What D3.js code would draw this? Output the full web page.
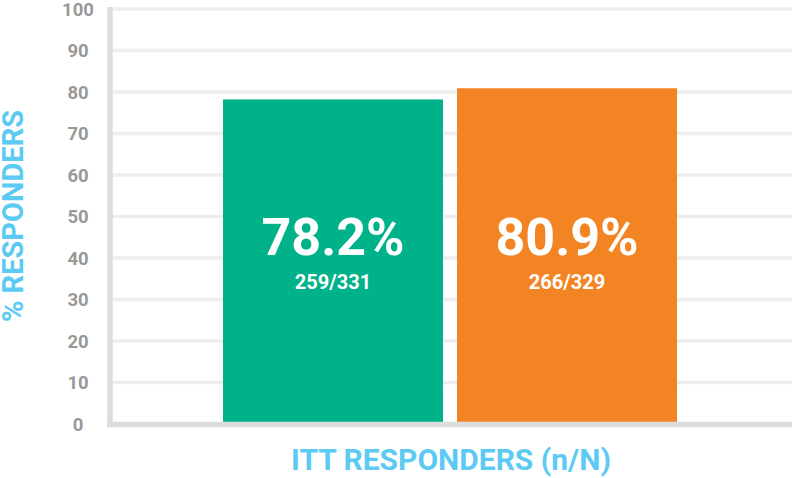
<!DOCTYPE html>
<html>
<head>
<meta charset="utf-8">
<script src="https://cdn.jsdelivr.net/npm/d3@7"></script>
<style>
  html, body { margin: 0; padding: 0; background: #fff; }
  svg { display: block; font-family: Roboto, "Open Sans", sans-serif; }
</style>
</head>
<body>
<div id="chart"></div>
<script>
const groups = ["A", "B"];
const percents = [78.2, 80.9];
const counts = ["259/331", "266/329"];
const colors = ["#00b289", "#f38424"];
const yTicks = [0, 10, 20, 30, 40, 50, 60, 70, 80, 90, 100];

const width = 792, height = 478;

const svg = d3.select("#chart").append("svg")
    .attr("width", width)
    .attr("height", height);

const xScale = d3.scaleBand()
    .domain(groups)
    .range([110, 790])
    .paddingInner(0.06)
    .paddingOuter(0.483);

const yScale = d3.scaleLinear()
    .domain([0, 100])
    .range([424, 9]);

// gridlines
svg.append("g")
    .selectAll("line")
    .data(yTicks.filter(d => d > 0))
    .join("line")
    .attr("x1", 112)
    .attr("x2", width)
    .attr("y1", d => yScale(d))
    .attr("y2", d => yScale(d))
    .attr("stroke", "#eeeeee")
    .attr("stroke-width", 3.5);

// tick labels
svg.append("g")
    .selectAll("text")
    .data(yTicks)
    .join("text")
    .attr("x", 78)
    .attr("y", d => yScale(d))
    .attr("dy", "0.36em")
    .attr("text-anchor", "middle")
    .attr("fill", "#999999")
    .attr("font-weight", "bold")
    .attr("font-size", 18.5)
    .text(d => d);

// bars
svg.append("g")
    .selectAll("rect")
    .data(groups)
    .join("rect")
    .attr("x", d => xScale(d))
    .attr("width", xScale.bandwidth())
    .attr("y", (d, i) => yScale(percents[i]))
    .attr("height", (d, i) => yScale(0) - yScale(percents[i]))
    .attr("fill", (d, i) => colors[i]);

// axis lines
svg.append("line")
    .attr("x1", 110).attr("x2", 110)
    .attr("y1", 7).attr("y2", 427)
    .attr("stroke", "#dddddd")
    .attr("stroke-width", 5.5);

svg.append("line")
    .attr("x1", 107).attr("x2", width)
    .attr("y1", 424.5).attr("y2", 424.5)
    .attr("stroke", "#dddddd")
    .attr("stroke-width", 5.5);

// bar labels
const labels = svg.append("g")
    .selectAll("g")
    .data(groups)
    .join("g")
    .attr("transform", d => `translate(${xScale(d) + xScale.bandwidth() / 2},0)`);

labels.append("text")
    .attr("y", 255)
    .attr("text-anchor", "middle")
    .attr("fill", "#fff")
    .attr("font-weight", "bold")
    .attr("font-size", 52)
    .text((d, i) => percents[i].toFixed(1) + "%");

labels.append("text")
    .attr("y", 289)
    .attr("text-anchor", "middle")
    .attr("fill", "#fff")
    .attr("font-weight", "bold")
    .attr("font-size", 20)
    .text((d, i) => counts[i]);

// axis titles
svg.append("text")
    .attr("transform", "translate(23,216) rotate(-90)")
    .attr("text-anchor", "middle")
    .attr("fill", "#5ccaf3")
    .attr("font-weight", "bold")
    .attr("font-size", 29)
    .text("% RESPONDERS");

svg.append("text")
    .attr("x", 451)
    .attr("y", 470)
    .attr("text-anchor", "middle")
    .attr("fill", "#5ccaf3")
    .attr("font-weight", "bold")
    .attr("font-size", 30)
    .text("ITT RESPONDERS (n/N)");
</script>
</body>
</html>
